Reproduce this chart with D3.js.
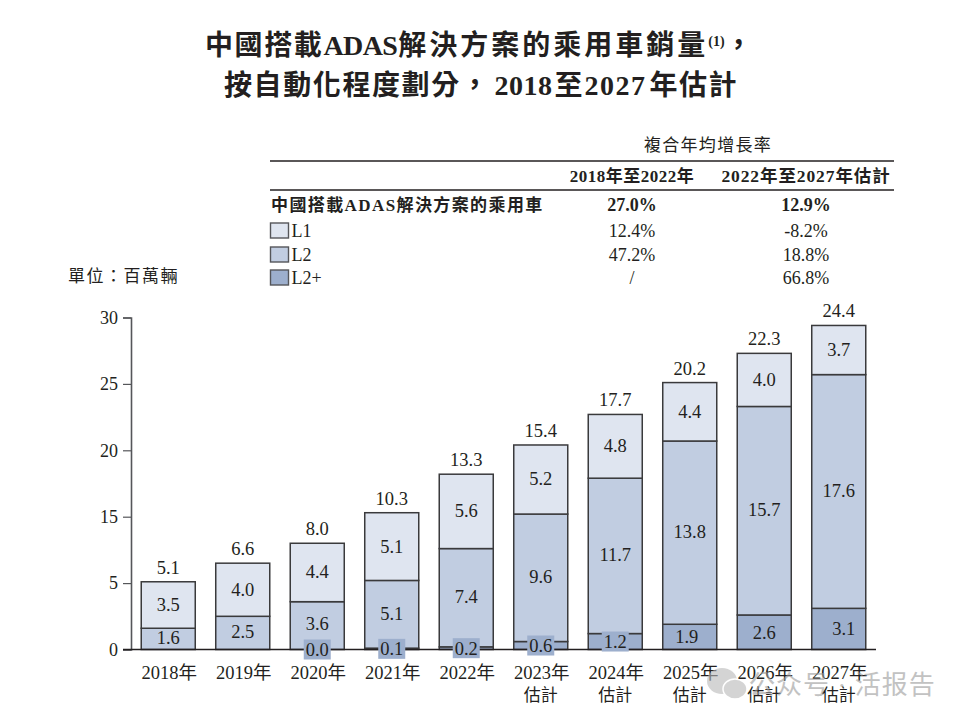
<!DOCTYPE html>
<html><head><meta charset="utf-8">
<script src="https://cdn.jsdelivr.net/npm/d3@7/dist/d3.min.js"></script>
<style>
html,body{margin:0;padding:0;background:#fff}
text{font-family:"Liberation Serif","Noto Sans CJK TC",serif;fill:#231f20}
</style></head><body>
<svg id="c" width="966" height="723"></svg>
<script>
const years = ["2018年","2019年","2020年","2021年","2022年","2023年","2024年","2025年","2026年","2027年"];
const estimated = [false,false,false,false,false,true,true,true,true,true];
const l2plus = [0,0,0.0,0.1,0.2,0.6,1.2,1.9,2.6,3.1];
const l2 = [1.6,2.5,3.6,5.1,7.4,9.6,11.7,13.8,15.7,17.6];
const l1 = [3.5,4.0,4.4,5.1,5.6,5.2,4.8,4.4,4.0,3.7];
const totals = [5.1,6.6,8.0,10.3,13.3,15.4,17.7,20.2,22.3,24.4];
const shownL2plus = [false,false,true,true,true,true,true,true,true,true];
const boxedL2plus = [false,false,true,true,true,true,true,false,false,false];
const tickValues = [0,5,10,15,20,25];
const tickLabels = ["0","5","15","20","25","30"];
const seriesNames = ["L2+","L2","L1"];
const seriesColors = ["#9dafcd","#c1cde1","#dfe5f0"];
const tableCols = ["2018年至2022年","2022年至2027年估計"];
const tableRows = [
  ["L1","12.4%","-8.2%"],
  ["L2","47.2%","18.8%"],
  ["L2+","/","66.8%"]
];
const tableTotal = ["中國搭載ADAS解決方案的乘用車","27.0%","12.9%"];

const svg = d3.select("#c");
const ink = "#231f20", edge = "#3a3a3c";

// Title
const t1 = svg.append("text").attr("x",205).attr("y",55)
  .attr("font-size",28).attr("font-weight",700).attr("letter-spacing",1.6);
t1.append("tspan").text("中國搭載");
t1.append("tspan").attr("letter-spacing",-0.6).text("ADAS");
t1.append("tspan").attr("dx",1).attr("letter-spacing",3).text("解決方案的乘用車銷量");
t1.append("tspan").attr("font-size",14).attr("dy",-9).attr("letter-spacing",0).text("(1)");
t1.append("tspan").attr("dy",9).text("，");
const t2 = svg.append("text").attr("x",224).attr("y",95)
  .attr("font-size",28).attr("font-weight",700).attr("letter-spacing",1.6);
t2.append("tspan").text("按自動化程度劃分，");
t2.append("tspan").attr("dx",4).attr("letter-spacing",0.5).text("2018");
t2.append("tspan").attr("dx",2).attr("letter-spacing",0).text("至");
t2.append("tspan").attr("dx",2).attr("letter-spacing",1.5).text("2027");
t2.append("tspan").attr("dx",3).attr("letter-spacing",1.5).text("年估計");

// Table
svg.append("text").attr("x",708).attr("y",151).attr("text-anchor","middle").attr("font-size",17).attr("letter-spacing",1.3).text("複合年均增長率");
[161,190].forEach(y=>svg.append("line").attr("x1",270).attr("x2",894).attr("y1",y).attr("y2",y).attr("stroke",ink).attr("stroke-width",1.5));
const colX = [632,806];
const colSize = [17,17.5], colSpace = [0.5,0.9];
svg.selectAll(".col").data(tableCols).join("text").attr("class","col")
  .attr("x",(d,i)=>colX[i]).attr("y",182).attr("text-anchor","middle")
  .attr("font-size",(d,i)=>colSize[i]).attr("font-weight",700).attr("letter-spacing",(d,i)=>colSpace[i]).text(d=>d);
svg.append("text").attr("x",271).attr("y",211).attr("font-size",17).attr("font-weight",700).attr("letter-spacing",1.4).text(tableTotal[0]);
svg.selectAll(".tot").data(tableTotal.slice(1)).join("text").attr("class","tot")
  .attr("x",(d,i)=>colX[i]).attr("y",211).attr("text-anchor","middle")
  .attr("font-size",18).attr("font-weight",700).text(d=>d);
const rowY = [237,261,284];
const legendColors = ["#dfe5f0","#c1cde1","#9dafcd"];
tableRows.forEach((r,i)=>{
  svg.append("rect").attr("x",270.5).attr("y",rowY[i]-14).attr("width",18).attr("height",15)
    .attr("fill",legendColors[i]).attr("stroke","#55565a").attr("stroke-width",1.4);
  svg.append("text").attr("x",291.5).attr("y",rowY[i]).attr("font-size",18).text(r[0]);
  colX.forEach((x,j)=>svg.append("text").attr("x",x).attr("y",rowY[i]).attr("text-anchor","middle").attr("font-size",18).text(r[j+1]));
});
svg.append("text").attr("x",68).attr("y",282).attr("font-size",17).attr("letter-spacing",1.5).text("單位：百萬輛");

// Scales
const x = d3.scaleBand().domain(years).range([131,876]).paddingInner(0.275).paddingOuter(0.1375);
const y = d3.scaleLinear().domain([0,25]).range([649.5,317.5]);

// Stacked bars
const rows = years.map((yr,i)=>({yr,"L2+":l2plus[i],"L2":l2[i],"L1":l1[i]}));
const stack = d3.stack().keys(seriesNames)(rows);
svg.selectAll(".s").data(stack).join("g").attr("class","s")
  .attr("fill",(d,i)=>seriesColors[i])
  .selectAll("rect").data(d=>d).join("rect")
  .attr("x",d=>x(d.data.yr)).attr("width",x.bandwidth())
  .attr("y",d=>y(d[1])).attr("height",d=>y(d[0])-y(d[1]))
  .attr("stroke",edge).attr("stroke-width",1.5);

// Axes
const yAxis = d3.axisLeft(y).tickValues(tickValues).tickSize(8).tickPadding(5)
  .tickFormat((d,i)=>tickLabels[i]);
const gy = svg.append("g").attr("transform","translate(131,0)").call(yAxis);
gy.selectAll("text").attr("font-size",18).style("font-family",'"Liberation Serif"').attr("fill",ink);
gy.selectAll("line").attr("stroke","#55565a").attr("stroke-width",1.2);
gy.select(".domain").attr("stroke","#55565a").attr("stroke-width",1.6);
svg.append("line").attr("x1",123).attr("x2",876).attr("y1",y(0)).attr("y2",y(0)).attr("stroke",ink).attr("stroke-width",1.5);

const cx = yr => x(yr)+x.bandwidth()/2;
// Year labels
years.forEach((yr,i)=>{
  svg.append("text").attr("x",cx(yr)+1).attr("y",679).attr("text-anchor","middle").attr("font-size",18.5).text(yr);
  if(estimated[i]) svg.append("text").attr("x",cx(yr)).attr("y",701).attr("text-anchor","middle").attr("font-size",17).text("估計");
});

// Value labels
const lab = (xx,yy,t)=>svg.append("text").attr("x",xx).attr("y",yy).attr("text-anchor","middle").attr("font-size",18.5).attr("dy","0.35em").text(t);
years.forEach((yr,i)=>{
  const a=l2plus[i], b=l2[i], c=l1[i];
  lab(cx(yr),y(a+b/2)-(yr==="2020年"?2:1),b.toFixed(1));
  lab(cx(yr),y(a+b+c/2)-0.5,c.toFixed(1));
  lab(cx(yr),y(totals[i])-14.5+((totals[i]-a-b-c)*13.28),totals[i].toFixed(1));
  if(shownL2plus[i]){
    const yy = y(a/2);
    if(boxedL2plus[i]) svg.append("rect").attr("x",cx(yr)-13.5).attr("width",27).attr("y",yy-10).attr("height",20).attr("fill",seriesColors[0]);
    const dx = yr==="2027年" ? 5 : yr==="2025年" ? -3 : 0;
    lab(cx(yr)+dx,yy,a.toFixed(1));
  }
});

// Watermark
const wm = svg.append("g").attr("opacity",0.6);
wm.append("ellipse").attr("cx",722).attr("cy",681).attr("rx",15).attr("ry",13).attr("fill","#b9b9b9");
wm.append("ellipse").attr("cx",735).attr("cy",689).attr("rx",12).attr("ry",10).attr("fill","#b9b9b9").attr("stroke","#fff").attr("stroke-width",1.5);
wm.append("text").attr("x",749).attr("y",694).attr("font-size",26).style("fill","#9a9a9a").attr("letter-spacing",1).text("公众号 · 活报告");
</script>
</body></html>
